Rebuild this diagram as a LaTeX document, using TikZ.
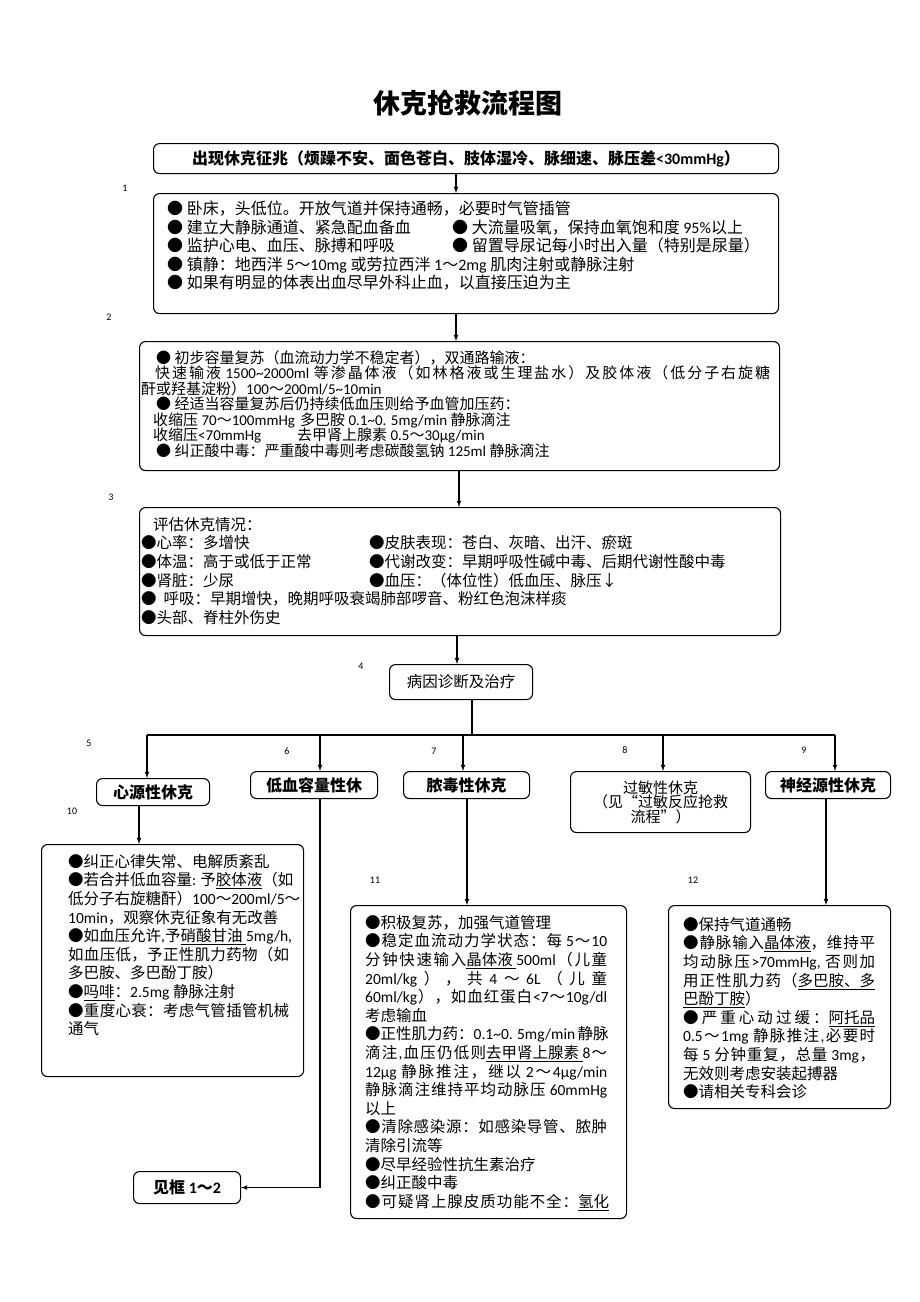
\documentclass[tikz,border=0pt]{standalone}
\usepackage{fontspec}
\setmainfont{Carlito}
\newfontfamily\cjkfont{Noto Sans CJK SC}
\newfontfamily\latfont{Carlito}
% switch fonts between CJK and Latin runs
\XeTeXinterchartokenstate=1
\newXeTeXintercharclass\cjkcls
\newcommand{\setcls}[2]{\count255=#1 \loop\XeTeXcharclass\count255=\cjkcls\relax\ifnum\count255<#2 \advance\count255 by 1 \repeat}
\setcls{"3000}{"303F}
\setcls{"4E00}{"9FFF}
\setcls{"FF00}{"FFEF}
\setcls{"25CF}{"25CF}
\setcls{"2190}{"2193}
\setcls{"201C}{"201D}
\newcommand{\cjkgap}{}
\XeTeXinterchartoks 0 \cjkcls = {\cjkgap\cjkfont}
\XeTeXinterchartoks 4095 \cjkcls = {\cjkfont}
\XeTeXinterchartoks \cjkcls 0 = {\cjkgap\latfont}
\XeTeXinterchartoks \cjkcls \cjkcls = {\cjkgap}
\XeTeXinterchartoks 4095 0 = {\latfont}
% justified line of given width
\newcommand{\jl}[2]{{\def\cjkgap{\hskip 0pt plus 3pt\relax}\makebox[#1][s]{#2}}}
\usetikzlibrary{shapes,arrows}
\tikzstyle{box} = [rectangle, rounded corners=6pt, draw=black, line width=1.1pt, inner sep=0pt, anchor=north west]
\tikzstyle{txt} = [anchor=north west, inner sep=0pt, align=left]
\tikzstyle{num} = [font=\latfont\fontsize{10}{10}\selectfont]
\tikzstyle{arr} = [-latex, line width=1.1pt]
\tikzstyle{line} = [line width=1.1pt]
\newcommand{\hd}{\bfseries\fontsize{16}{16}\selectfont}
\newcommand{\bd}{\fontsize{15.5}{18.6}\selectfont}

\begin{document}
\begin{tikzpicture}[x=1pt,y=-1pt]
\useasboundingbox (0,0) rectangle (920,1302);
\node[font=\bfseries\fontsize{27}{27}\selectfont] (title) at (468,103) {休克抢救流程图};
% boxes
\node[box,minimum width=625pt,minimum height=30pt,font=\hd](0) at (153,143) {出现休克征兆（烦躁不安、面色苍白、肢体湿冷、脉细速、脉压差<30mmHg）};
\node[box,minimum width=625pt,minimum height=120pt](1) at (153,193) {};
\node[box,minimum width=640pt,minimum height=129pt](2) at (139,341) {};
\node[box,minimum width=641pt,minimum height=128pt](3) at (139,507) {};
\node[box,minimum width=143pt,minimum height=35pt,font=\bd](4) at (389,664) {病因诊断及治疗};
\node[box,minimum width=113pt,minimum height=27pt,font=\hd](5) at (96,778) {心源性休克};
\node[box,minimum width=127pt,minimum height=27pt,font=\hd](6) at (250,771) {低血容量性休};
\node[box,minimum width=126pt,minimum height=27pt,font=\hd](7) at (403,771) {脓毒性休克};
\node[box,minimum width=180pt,minimum height=61pt,align=center,font=\fontsize{15}{14.5}\selectfont](8) at (570,771) {过敏性休克\\（见“过敏反应抢救\\流程”）};
\node[box,minimum width=125pt,minimum height=27pt,font=\hd](9) at (765,771) {神经源性休克};
\node[box,minimum width=262pt,minimum height=232pt](10) at (41,844) {};
\node[box,minimum width=276pt,minimum height=313pt](11) at (350,905) {};
\node[box,minimum width=222pt,minimum height=203pt](12) at (668,905) {};
\node[box,minimum width=107pt,minimum height=32pt,font=\hd](see) at (133,1171) {见框 1～2};
% texts
\node[txt,font=\fontsize{16}{18.5}\selectfont](t1) at (167,201) {● 卧床，头低位。开放气道并保持通畅，必要时气管插管\\
\makebox[285pt][l]{● 建立大静脉通道、紧急配血备血}● 大流量吸氧，保持血氧饱和度 95\%以上\\
\makebox[285pt][l]{● 监护心电、血压、脉搏和呼吸}● 留置导尿记每小时出入量（特别是尿量）\\
● 镇静：地西泮 5～10mg 或劳拉西泮 1～2mg 肌肉注射或静脉注射\\
● 如果有明显的体表出血尽早外科止血，以直接压迫为主};
\node[txt,font=\fontsize{15}{15.5}\selectfont](t2) at (141,350) {\hspace*{15pt}● 初步容量复苏（血流动力学不稳定者），双通路输液：\\
\hspace*{14pt}\jl{615pt}{快速输液 1500\textasciitilde2000ml 等渗晶体液（如林格液或生理盐水）及胶体液（低分子右旋糖}\\
酐或羟基淀粉）100～200ml/5\textasciitilde10min\\
\hspace*{15pt}● 经适当容量复苏后仍持续低血压则给予血管加压药：\\
\hspace*{12pt}\makebox[147pt][l]{收缩压 70～100mmHg}多巴胺 0.1\textasciitilde0. 5mg/min 静脉滴注\\
\hspace*{12pt}\makebox[144pt][l]{收缩压<70mmHg}去甲肾上腺素 0.5～30μg/min\\
\hspace*{15pt}● 纠正酸中毒：严重酸中毒则考虑碳酸氢钠 125ml 静脉滴注};
\node[txt,font=\bd](t3) at (141,517) {\hspace*{12pt}评估休克情况：\\
\makebox[228pt][l]{●心率：多增快}●皮肤表现：苍白、灰暗、出汗、瘀斑\\
\makebox[228pt][l]{●体温：高于或低于正常}●代谢改变：早期呼吸性碱中毒、后期代谢性酸中毒\\
\makebox[228pt][l]{●肾脏：少尿}●血压：（体位性）低血压、脉压↓\\
●\ \ 呼吸：早期增快，晚期呼吸衰竭肺部啰音、粉红色泡沫样痰\\
●头部、脊柱外伤史};
\node[txt,font=\bd](t10) at (68,854) {●纠正心律失常、电解质紊乱\\
\jl{221pt}{●若合并低血容量: 予\underline{胶体液}（如}\\
\jl{221pt}{低分子右旋糖酐）100～200ml/5～}\\
10min，观察休克征象有无改善\\
\jl{221pt}{●如血压允许,予\underline{硝酸甘油 }5mg/h,}\\
\jl{221pt}{如血压低，予正性肌力药物（如}\\
多巴胺、多巴酚丁胺）\\
●\underline{吗啡}：2.5mg 静脉注射\\
\jl{221pt}{●重度心衰：考虑气管插管机械}\\
通气};
\node[txt,font=\bd](t11) at (365,915) {●积极复苏，加强气道管理\\
\jl{242pt}{●稳定血流动力学状态：每 5～10}\\
\jl{242pt}{分钟快速输入\underline{晶体液 }500ml（儿童}\\
\jl{242pt}{20ml/kg ）， 共 4 ～ 6L （ 儿 童}\\
\jl{242pt}{60ml/kg），如血红蛋白<7～10g/dl}\\
考虑输血\\
\jl{242pt}{●正性肌力药：0.1\textasciitilde0. 5mg/min 静脉}\\
\jl{242pt}{滴注,血压仍低则\underline{去甲肾上腺素 }8～}\\
\jl{242pt}{12μg 静脉推注，继以 2～4μg/min}\\
\jl{242pt}{静脉滴注维持平均动脉压 60mmHg}\\
以上\\
\jl{242pt}{●清除感染源：如感染导管、脓肿}\\
清除引流等\\
●尽早经验性抗生素治疗\\
●纠正酸中毒\\
\jl{244pt}{●可疑肾上腺皮质功能不全：\underline{氢化}}};
\node[txt,font=\bd](t12) at (683,917) {●保持气道通畅\\
\jl{192pt}{●静脉输入\underline{晶体液}，维持平}\\
\jl{192pt}{均动脉压>70mmHg, 否则加}\\
\jl{192pt}{用正性肌力药（\underline{多巴胺、多}}\\
\underline{巴酚丁胺}）\\
\jl{192pt}{●严重心动过缓：\underline{阿托品}}\\
\jl{192pt}{0.5～1mg 静脉推注,必要时}\\
\jl{192pt}{每 5 分钟重复，总量 3mg，}\\
无效则考虑安装起搏器\\
●请相关专科会诊};
% numbers
\node[num](n1) at (125,188) {1};
\node[num](n2) at (109,317) {2};
\node[num](n3) at (111,497) {3};
\node[num](n4) at (361,666) {4};
\node[num](n5) at (89,743) {5};
\node[num](n6) at (287,751) {6};
\node[num](n7) at (434,751) {7};
\node[num](n8) at (625,750) {8};
\node[num](n9) at (804,750) {9};
\node[num](n10) at (72,811) {10};
\node[num](n11) at (375,880) {11};
\node[num](n12) at (693,880) {12};
% connectors
\coordinate (bus) at (472,735);
\coordinate (l) at (147,735);
\coordinate (r) at (835,735);
\draw[arr] (0.south -| 456,0) -- (1.north -| 456,0);
\draw[arr] (1.south -| 456,0) -- (2.north -| 456,0);
\draw[arr] (2.south -| 459,0) -- (3.north -| 459,0);
\draw[arr] (3.south -| 457,0) -- (4.north -| 457,0);
\draw[line] (4.south -| bus) -- (bus);
\draw[line] (l) -- (r);
\draw[arr] (l) -- (5.north -| l);
\draw[arr] (l -| 320,0) -- (6.north -| 320,0);
\draw[arr] (l -| 463,0) -- (7.north -| 463,0);
\draw[arr] (l -| 663,0) -- (8.north -| 663,0);
\draw[arr] (r) -- (9.north -| r);
\draw[arr] (5.south -| 139,0) -- (10.north -| 139,0);
\draw[arr] (6.south -| 320,0) |- (see.east);
\draw[arr] (7.south -| 467,0) -- (11.north -| 467,0);
\draw[arr] (9.south -| 826,0) -- (12.north -| 826,0);
\end{tikzpicture}
\end{document}
